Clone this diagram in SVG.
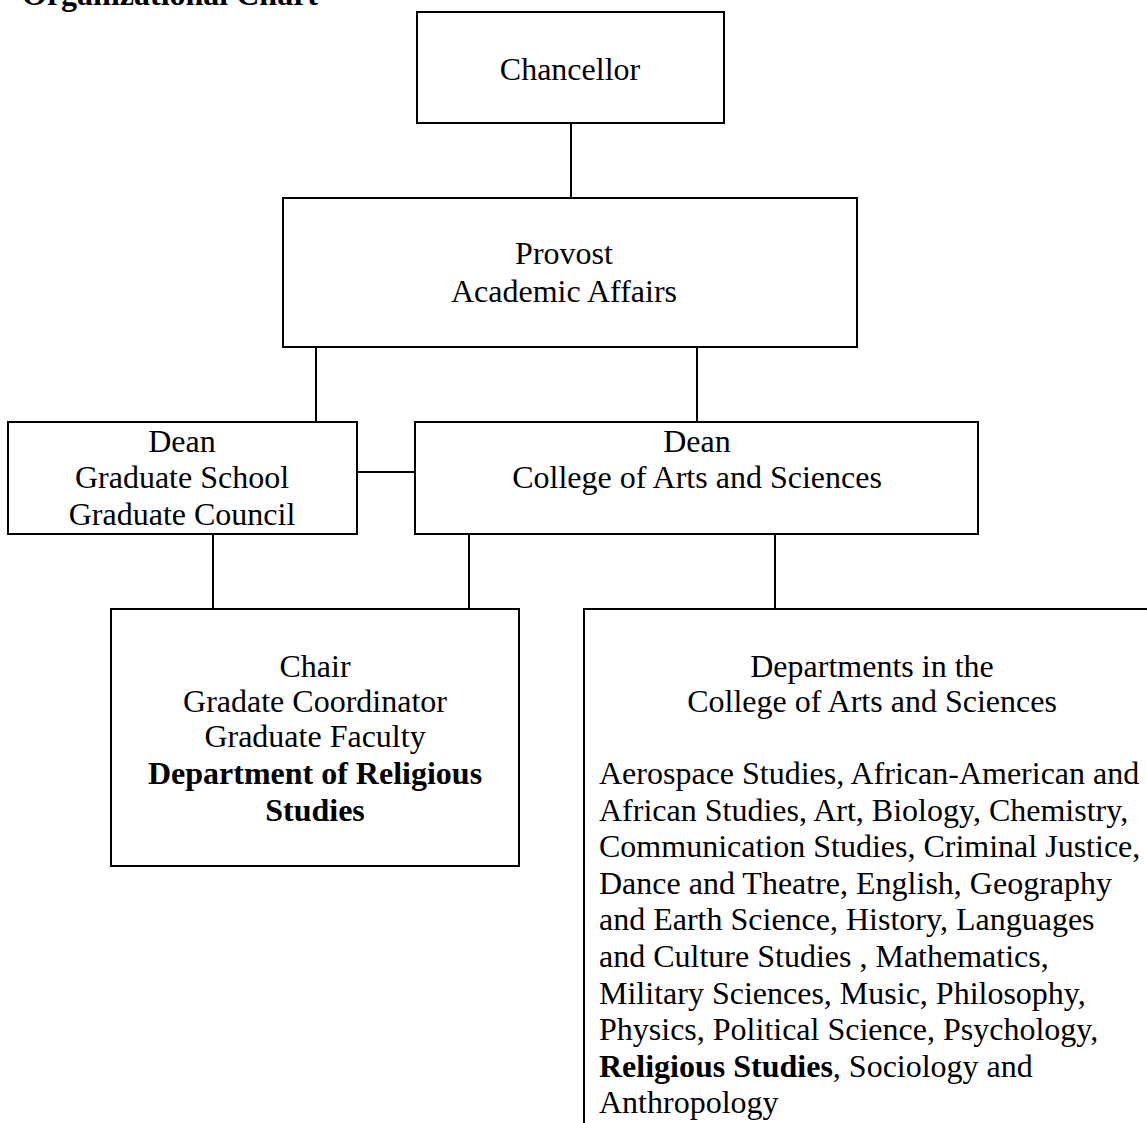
<svg xmlns="http://www.w3.org/2000/svg" width="1147" height="1123" viewBox="0 0 1147 1123">
<style>
.box{fill:#fff;stroke:#000;stroke-width:2}
.ln{stroke:#000;stroke-width:2;fill:none}
text{font-family:"Liberation Serif","Times New Roman",serif;font-size:32px;fill:#000}
.c{text-anchor:middle}
.b{font-weight:bold}
</style>
<rect width="1147" height="1123" fill="#fff"/>
<text id="title" class="b" x="22" y="5">Organizational Chart</text>
<g id="connectors">
<line class="ln" x1="571" y1="123" x2="571" y2="198"/>
<line class="ln" x1="316" y1="347" x2="316" y2="422"/>
<line class="ln" x1="697" y1="347" x2="697" y2="422"/>
<line class="ln" x1="357" y1="472" x2="415" y2="472"/>
<line class="ln" x1="213" y1="534" x2="213" y2="609"/>
<line class="ln" x1="469" y1="534" x2="469" y2="609"/>
<line class="ln" x1="775" y1="534" x2="775" y2="609"/>
</g>
<g id="chancellor">
<rect class="box" x="417" y="12" width="307" height="111"/>
<text class="c" x="570" y="80">Chancellor</text>
</g>
<g id="provost">
<rect class="box" x="283" y="198" width="574" height="149"/>
<text class="c" x="564" y="264">Provost</text>
<text class="c" x="564" y="302">Academic Affairs</text>
</g>
<g id="dean-grad">
<rect class="box" x="8" y="422" width="349" height="112"/>
<text class="c" x="182" y="452">Dean</text>
<text class="c" x="182" y="488">Graduate School</text>
<text class="c" x="182" y="525">Graduate Council</text>
</g>
<g id="dean-cas">
<rect class="box" x="415" y="422" width="563" height="112"/>
<text class="c" x="697" y="452">Dean</text>
<text class="c" x="697" y="488">College of Arts and Sciences</text>
</g>
<g id="chair">
<rect class="box" x="111" y="609" width="408" height="257"/>
<text class="c" x="315" y="677">Chair</text>
<text class="c" x="315" y="712">Gradate Coordinator</text>
<text class="c" x="315" y="747">Graduate Faculty</text>
<text class="c b" x="315" y="784">Department of Religious</text>
<text class="c b" x="315" y="821">Studies</text>
</g>
<g id="departments">
<rect class="box" x="584" y="609" width="577" height="540"/>
<text class="c" x="872" y="677">Departments in the</text>
<text class="c" x="872" y="712">College of Arts and Sciences</text>
<text x="599" y="784">Aerospace Studies, African-American and</text>
<text x="599" y="821">African Studies, Art, Biology, Chemistry,</text>
<text x="599" y="857">Communication Studies, Criminal Justice,</text>
<text x="599" y="894">Dance and Theatre, English, Geography</text>
<text x="599" y="930">and Earth Science, History, Languages</text>
<text x="599" y="967">and Culture Studies , Mathematics,</text>
<text x="599" y="1004">Military Sciences, Music, Philosophy,</text>
<text x="599" y="1040">Physics, Political Science, Psychology,</text>
<text x="599" y="1077"><tspan class="b">Religious Studies</tspan>, Sociology and</text>
<text x="599" y="1113">Anthropology</text>
</g>
</svg>
